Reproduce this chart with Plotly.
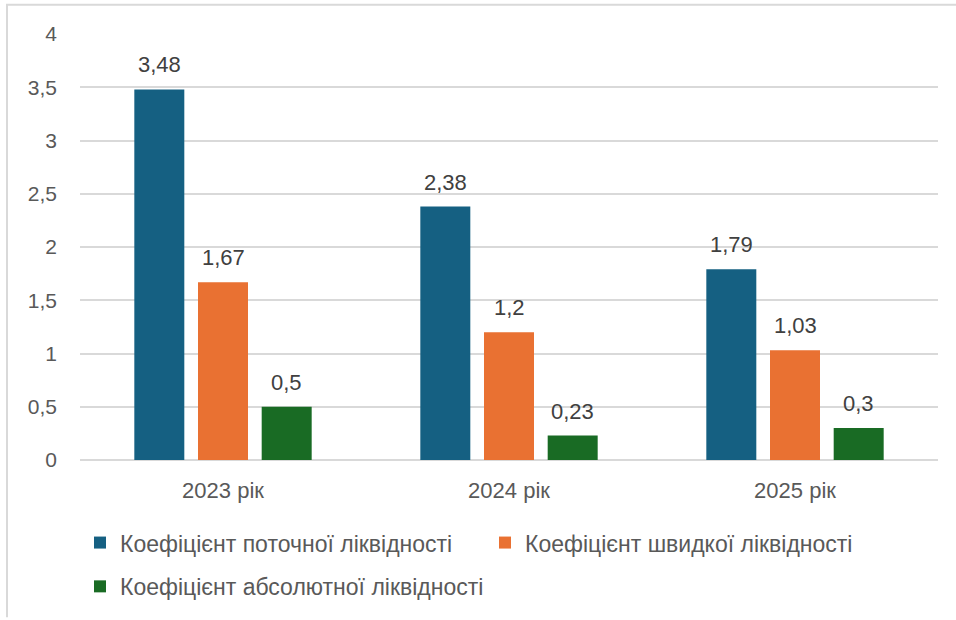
import plotly.graph_objects as go

# Коефіцієнти ліквідності по роках
years = ["2023 рік", "2024 рік", "2025 рік"]
series_names = [
    "Коефіцієнт поточної ліквідності",
    "Коефіцієнт швидкої ліквідності",
    "Коефіцієнт абсолютної ліквідності",
]
current_ratio = [3.48, 2.38, 1.79]
quick_ratio = [1.67, 1.2, 1.03]
absolute_ratio = [0.5, 0.23, 0.3]
y_ticks = [0, 0.5, 1, 1.5, 2, 2.5, 3, 3.5, 4]

colors = ["#156082", "#E97132", "#196B24"]
font_name = "Liberation Sans"

W, H = 956, 620
L, R, T, B = 80, 18, 34, 158
bargap = 0.332
slot_px = (W - L - R) / len(years) * (1 - bargap) / 3


def fmt(v):
    return f"{v:g}".replace(".", ",")


fig = go.Figure()
all_series = [current_ratio, quick_ratio, absolute_ratio]
for i, (name, vals) in enumerate(zip(series_names, all_series)):
    fig.add_trace(go.Bar(
        x=years, y=vals, name=name,
        marker=dict(color=colors[i], line=dict(width=0)),
        legend="legend" if i < 2 else "legend2",
        hoverinfo="skip",
    ))
    # data labels above bars
    for yr, v in zip(years, vals):
        fig.add_annotation(
            x=yr, y=v, text=fmt(v), showarrow=False,
            yanchor="bottom", xshift=(i - 1) * slot_px, yshift=10,
            font=dict(family=font_name, size=22, color="#404040"),
        )

# light frame lines on the left and top (as in the source image)
px_x = lambda p: (p - L) / (W - L - R)
px_y = lambda p: (H - B - p) / (H - T - B)
frame = dict(color="#d9d9d9", width=2)
fig.add_shape(type="line", xref="paper", yref="paper",
              x0=px_x(7), x1=px_x(7), y0=px_y(4.5), y1=px_y(H), line=frame)
fig.add_shape(type="line", xref="paper", yref="paper",
              x0=px_x(6), x1=px_x(W), y0=px_y(4.5), y1=px_y(4.5), line=frame)

fig.update_layout(
    width=W, height=H,
    margin=dict(l=L, r=R, t=T, b=B),
    plot_bgcolor="white", paper_bgcolor="white",
    barmode="group", bargap=bargap, bargroupgap=0.215,
    separators=", ",
    font=dict(family=font_name, size=20, color="#595959"),
    xaxis=dict(showgrid=False, ticks="", ticklabelstandoff=15,
               tickfont=dict(size=22, color="#595959"), showline=False),
    yaxis=dict(range=[0, 4], tickvals=y_ticks,
               ticktext=[fmt(v) for v in y_ticks],
               showgrid=True, gridcolor="#d9d9d9", gridwidth=1.5,
               zeroline=True, zerolinecolor="#d9d9d9", zerolinewidth=1.5,
               ticks="", ticklabelstandoff=22,
               tickfont=dict(size=21, color="#595959")),
    legend=dict(orientation="h", x=0, xanchor="left",
                y=px_y(545), yanchor="middle", entrywidth=360,
                font=dict(size=23, color="#595959"), bgcolor="rgba(0,0,0,0)"),
    legend2=dict(orientation="h", x=0, xanchor="left",
                 y=px_y(589), yanchor="middle",
                 font=dict(size=23, color="#595959"), bgcolor="rgba(0,0,0,0)"),
    showlegend=True,
)

fig.write_html("out.html", config={"displayModeBar": False},
               post_script="document.body.style.margin='0';")
